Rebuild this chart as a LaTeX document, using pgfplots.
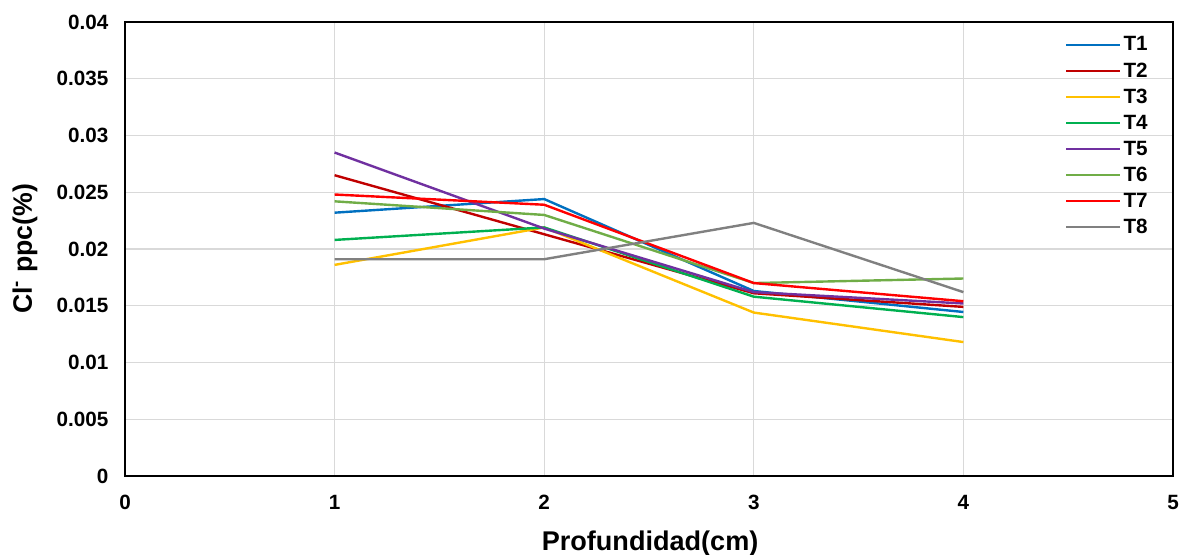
\documentclass[border=0pt]{standalone}
\usepackage{pgfplots}
\pgfplotsset{compat=1.18}
\usepackage{fontspec}
\setmainfont{Liberation Sans}
\definecolor{cT1}{HTML}{0070C0}
\definecolor{cT2}{HTML}{C00000}
\definecolor{cT3}{HTML}{FFC000}
\definecolor{cT4}{HTML}{00B050}
\definecolor{cT5}{HTML}{7030A0}
\definecolor{cT6}{HTML}{70AD47}
\definecolor{cT7}{HTML}{FF0000}
\definecolor{cT8}{HTML}{808080}
\definecolor{gridc}{HTML}{D9D9D9}
\begin{document}
\begin{tikzpicture}
\path[use as bounding box] (0,0) rectangle (888pt,415.5pt);
\begin{axis}[
  at={(93.75pt,58.5pt)}, anchor=south west,
  scale only axis, width=786pt, height=340.5pt,
  xmin=0, xmax=5, ymin=0, ymax=0.04,
  xtick={0,1,2,3,4,5},
  ytick={0,0.005,0.01,0.015,0.02,0.025,0.03,0.035,0.04},
  scaled ticks=false,
  axis line style={draw=black, line width=1.1pt},
  grid=major, major grid style={draw=gridc, line width=1pt},
  major tick length=0pt,
  /pgf/number format/assume math mode=true,
  ticklabel style={font=\bfseries\fontsize{15.5}{18}\selectfont},
  yticklabel style={/pgf/number format/fixed, /pgf/number format/precision=3, xshift=-9pt},
  xticklabel style={yshift=-11pt},
  xlabel={Profundidad(cm)},
  ylabel={Cl\textsuperscript{-} ppc(\%)},
  every axis x label/.style={at={(rel axis cs:0.501,0)}, anchor=center, yshift=-50.5pt,
    font=\bfseries\fontsize{20.3}{24}\selectfont},
  every axis y label/.style={at={(rel axis cs:-0.0954,0.5)}, anchor=center, rotate=90,
    font=\bfseries\fontsize{20}{24}\selectfont},
  legend style={at={(0.893,0.98)}, anchor=north west, draw=none, fill=none,
    font=\bfseries\fontsize{15.5}{18}\selectfont, row sep=3.3pt},
  legend cell align=left,
  legend image code/.code={\draw[#1, line width=1.8pt] (0cm,0cm) -- (40pt,0cm);},
  every axis plot/.append style={line width=1.8pt},
]
\addplot[cT1] coordinates {(1,0.0232) (2,0.0244) (3,0.0163) (4,0.01445)};
\addlegendentry{T1}
\addplot[cT2] coordinates {(1,0.0265) (2,0.0213) (3,0.0161) (4,0.0149)};
\addlegendentry{T2}
\addplot[cT3] coordinates {(1,0.0186) (2,0.0219) (3,0.0144) (4,0.0118)};
\addlegendentry{T3}
\addplot[cT4] coordinates {(1,0.0208) (2,0.0219) (3,0.0158) (4,0.0140)};
\addlegendentry{T4}
\addplot[cT5] coordinates {(1,0.0285) (2,0.0218) (3,0.0162) (4,0.0152)};
\addlegendentry{T5}
\addplot[cT6] coordinates {(1,0.0242) (2,0.0230) (3,0.0170) (4,0.0174)};
\addlegendentry{T6}
\addplot[cT7] coordinates {(1,0.0248) (2,0.0239) (3,0.0170) (4,0.0154)};
\addlegendentry{T7}
\addplot[cT8] coordinates {(1,0.0191) (2,0.0191) (3,0.0223) (4,0.0162)};
\addlegendentry{T8}
\end{axis}
\end{tikzpicture}
\end{document}
